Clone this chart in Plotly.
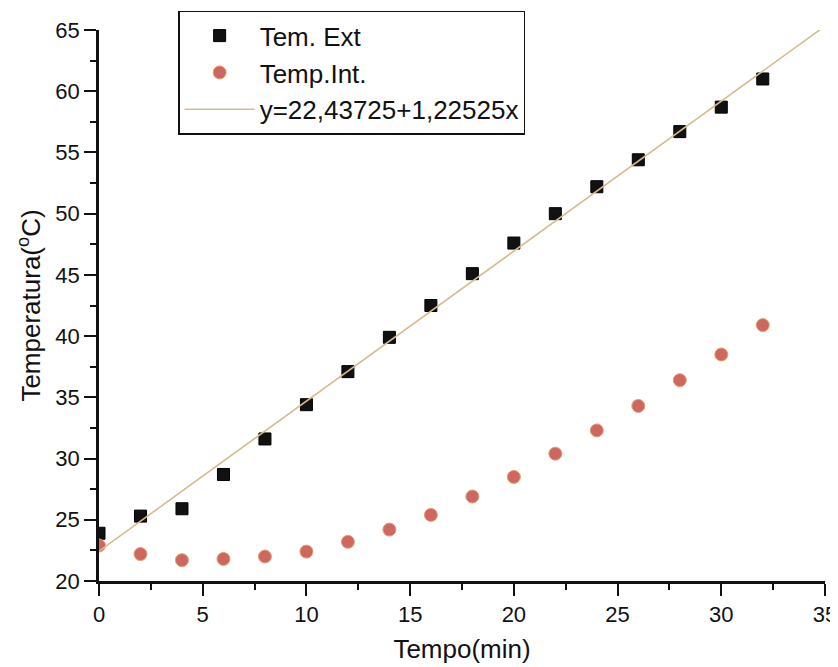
import plotly.graph_objects as go

tempo = [0, 2, 4, 6, 8, 10, 12, 14, 16, 18, 20, 22, 24, 26, 28, 30, 32]
tem_ext = [23.9, 25.3, 25.9, 28.7, 31.6, 34.4, 37.1, 39.9, 42.5, 45.1, 47.6, 50.0, 52.2, 54.4, 56.7, 58.7, 61.0]
temp_int = [22.9, 22.2, 21.7, 21.8, 22.0, 22.4, 23.2, 24.2, 25.4, 26.9, 28.5, 30.4, 32.3, 34.3, 36.4, 38.5, 40.9]
fit_a = 22.43725
fit_b = 1.22525
fit_x = [0, 34.8]
fit_y = [fit_a + fit_b * x for x in fit_x]

font = "Liberation Sans, Arial, sans-serif"

fig = go.Figure()
fig.add_trace(go.Scatter(x=tempo, y=tem_ext, mode="markers", name="Tem. Ext",
                         marker=dict(symbol="square", size=12, color="#111111",
                                     line=dict(color="#000000", width=1))))
fig.add_trace(go.Scatter(x=tempo, y=temp_int, mode="markers", name="Temp.Int.",
                         marker=dict(symbol="circle", size=13, color="#cd675f",
                                     line=dict(color="#e2a070", width=1))))
fig.add_trace(go.Scatter(x=fit_x, y=fit_y, mode="lines", name="y=22,43725+1,22525x",
                         line=dict(color="#d9b98f", width=1.6)))

fig.update_layout(
    width=830, height=667,
    margin=dict(l=91, r=13, t=22, b=94, autoexpand=False),
    paper_bgcolor="white", plot_bgcolor="white",
    font=dict(family=font, color="#111111", size=22),
    showlegend=True,
    legend=dict(x=0.109, y=1.035, xanchor="left", yanchor="top",
                bgcolor="white", bordercolor="#111111", borderwidth=1.5,
                font=dict(size=26, family=font), itemwidth=70,
                tracegroupgap=0),
    xaxis=dict(range=[0, 35], tickmode="array", tickvals=[0, 5, 10, 15, 20, 25, 30, 35],
               showline=True, linecolor="#111111", linewidth=2.5, mirror=False,
               ticks="outside", ticklen=12, tickwidth=2, tickcolor="#111111",
               minor=dict(ticks="outside", ticklen=6, tickwidth=2, tickcolor="#111111", dtick=2.5),
               showgrid=False, zeroline=False, automargin=False,
               title=dict(text="Tempo(min)", font=dict(size=26), standoff=14),
               tickfont=dict(size=22)),
    yaxis=dict(range=[20, 65], tickmode="array", tickvals=[20, 25, 30, 35, 40, 45, 50, 55, 60, 65],
               showline=True, linecolor="#111111", linewidth=2.5, mirror=False,
               ticks="outside", ticklen=12, tickwidth=2, tickcolor="#111111",
               minor=dict(ticks="outside", ticklen=6, tickwidth=2, tickcolor="#111111", dtick=2.5),
               showgrid=False, zeroline=False, automargin=False,
               title=dict(text="Temperatura(<sup>o</sup>C)", font=dict(size=26), standoff=8),
               tickfont=dict(size=22)),
)

fig.write_html("out.html")
